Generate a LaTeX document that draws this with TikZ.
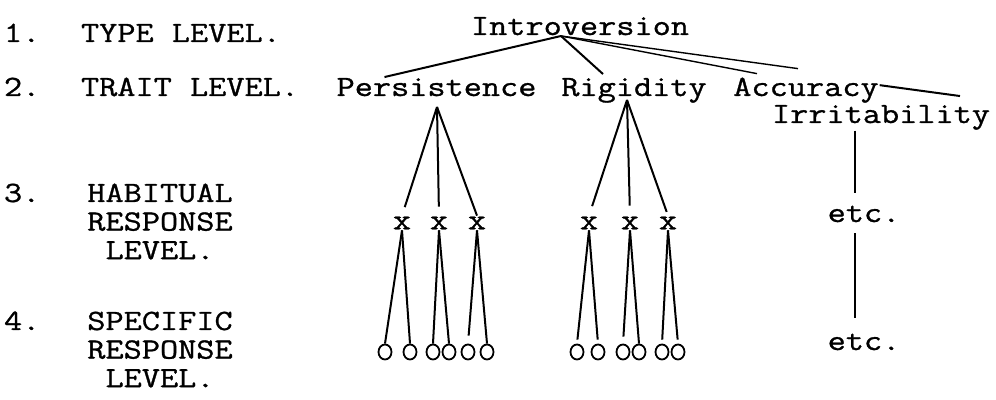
\documentclass[tikz,border=0pt]{standalone}
\usepackage{fontspec}
\setmonofont{Latin Modern Mono}[FakeStretch=1.2, FakeBold=1]
\usepackage{tikz}
\usetikzlibrary{positioning}
\usetikzlibrary{shapes.geometric}
\newcommand\typed{\ttfamily\fontsize{14.7}{14.3}\selectfont}

\begin{document}
\begin{tikzpicture}[x=0.5pt, y=-0.5pt, line width=1pt,
			txt/.style={font=\typed, inner sep=0, anchor=base},
			lvl/.style={font=\typed, inner sep=0, anchor=base west},
			blk/.style={font=\typed, inner sep=0, anchor=base, align=center},
			xmark/.style={font=\typed, inner sep=0},
			resp/.style={draw, ellipse, inner sep=0, minimum width=6.5pt, minimum height=7.5pt, line width=0.9pt}]
				\useasboundingbox (0,0) rectangle (996,400);
				\node[lvl] (n1) at (3,42) {1.};
				\node[lvl] (l1) at (80,42) {TYPE LEVEL.};
				\node[lvl] (n2) at (3,96) {2.};
				\node[lvl] (l2) at (80,96) {TRAIT LEVEL.};
				\node[lvl] (n3) at (3,202) {3.};
				\node[blk] (l3) at (160,259.2) {HABITUAL\\RESPONSE\\LEVEL.};
				\node[lvl] (n4) at (3,330) {4.};
				\node[blk] (l4) at (160,387.2) {SPECIFIC\\RESPONSE\\LEVEL.};
				\node[txt] (intro) at (580,35) {Introversion};
				\node[txt] (pers) at (436.5,96) {Persistence};
				\node[txt] (rig) at (634,96) {Rigidity};
				\node[txt] (acc) at (806,96) {Accuracy};
				\node[txt] (irr) at (881,123) {Irritability};
				\coordinate (ihub) at (561,36);
				\draw (ihub) -- ([xshift=-26pt]pers.north);
				\draw (ihub) -- ([xshift=-15.5pt, yshift=1.5pt]rig.north);
				\draw[line width=0.7pt] (ihub) -- ([xshift=-4pt, yshift=4pt]acc.north);
				\draw[line width=0.7pt] (ihub) -- ([xshift=-24.5pt, yshift=1.5pt]acc.north);
				\draw ([yshift=2.5pt]acc.east) -- ([xshift=39.5pt, yshift=4pt]irr.north);
				\coordinate (papex) at (437,107);
				\node[xmark] (px1) at (402,223) {x};
				\node[xmark] (px2) at (439,223) {x};
				\node[xmark] (px3) at (477,223) {x};
				\draw[shorten >=4.5pt] (papex) -- (px1.north);
				\draw[shorten >=4.5pt] (papex) -- (px2.north);
				\draw (papex) -- (px3.north);
				\node[resp] (pc1) at (385,352) {};
				\node[resp] (pc2) at (410,352) {};
				\node[resp] (pc3) at (433,352) {};
				\node[resp] (pc4) at (449,352) {};
				\node[resp] (pc5) at (468,352) {};
				\node[resp] (pc6) at (487,352) {};
				\draw (px1.south) -- (pc1.north);
				\draw (px1.south) -- (pc2.north);
				\draw (px2.south) -- (pc3.north);
				\draw (px2.south) -- (pc4.north);
				\draw[shorten >=4pt] (px3.south) -- (pc5.north);
				\draw (px3.south) -- (pc6.north);
				\coordinate (rapex) at (627,100);
				\node[xmark] (rx1) at (589,223) {x};
				\node[xmark] (rx2) at (630,223) {x};
				\node[xmark] (rx3) at (668,223) {x};
				\draw[shorten >=5pt] (rapex) -- (rx1.north);
				\draw[shorten >=5pt] (rapex) -- (rx2.north);
				\draw[shorten >=2pt] (rapex) -- (rx3.north);
				\node[resp] (rc1) at (577,352) {};
				\node[resp] (rc2) at (598,352) {};
				\node[resp] (rc3) at (623,352) {};
				\node[resp] (rc4) at (639,352) {};
				\node[resp] (rc5) at (662,352) {};
				\node[resp] (rc6) at (678,352) {};
				\draw[shorten >=2pt] (rx1.south) -- (rc1.north);
				\draw[shorten >=2pt] (rx1.south) -- (rc2.north);
				\draw[shorten >=3.5pt] (rx2.south) -- (rc3.north);
				\draw (rx2.south) -- (rc4.north);
				\draw[shorten >=2pt] (rx3.south) -- (rc5.north);
				\draw[shorten >=2pt] (rx3.south) -- (rc6.north);
				\node[txt] (etcA) at (864,222) {etc.};
				\node[txt] (etcB) at (864,350) {etc.};
				\coordinate (tcol) at (855,0);
				\draw[shorten >=6pt] (irr.south -| tcol) -- (etcA.north -| tcol);
				\draw[shorten <=5pt, shorten >=7.5pt] (etcA.south -| tcol) -- (etcB.north -| tcol);
\end{tikzpicture}
\end{document}
